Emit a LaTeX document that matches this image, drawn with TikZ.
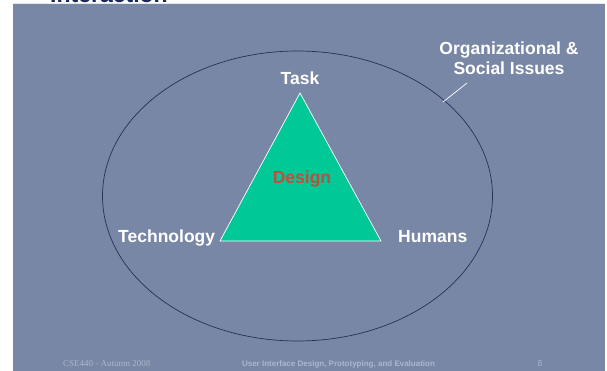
\documentclass[tikz,border=0pt]{standalone}
\usepackage{fontspec}
\setmainfont{Liberation Sans}
\newfontfamily\serifft{Liberation Serif}
\definecolor{slidebg}{RGB}{121,135,166}
\definecolor{ringline}{RGB}{38,48,88}
\definecolor{trifill}{RGB}{0,200,150}
\definecolor{designred}{RGB}{181,84,60}
\definecolor{footgray}{RGB}{172,182,204}
\definecolor{titlenavy}{RGB}{28,38,88}
\tikzset{
  lab/.style={text=white, font=\bfseries\fontsize{17.5}{20}\selectfont, inner sep=0pt},
  foot/.style={text=footgray, inner sep=0pt},
  leader/.style={draw=white, line width=0.7pt},
}
\begin{document}
\begin{tikzpicture}[x=1pt,y=-1pt]
\useasboundingbox (0,0) rectangle (607,371);
\fill[white] (0,0) rectangle (607,371);
% slide panel
\fill[slidebg] (13,3) rectangle (605,371);
\draw[white!80!slidebg, line width=0.6pt] (13,3.2) -- (605,3.2);
% bottom of the cut-off heading
\begin{scope}
  \clip (0,0) rectangle (607,2.6);
  \node[anchor=base west, inner sep=0pt, text=titlenavy,
        font=\bfseries\fontsize{23}{26}\selectfont] (heading) at (50,2.6) {Interaction};
\end{scope}
% context ring
\draw[ringline, line width=0.7pt] (297.5,196) ellipse [x radius=195, y radius=145];
% design triangle
\coordinate (apex) at (300,93);
\coordinate (lbase) at (220,241);
\coordinate (rbase) at (381,241);
\filldraw[fill=trifill, draw=white, line width=0.7pt] (apex) -- (rbase) -- (lbase) -- cycle;
\node[lab, text=designred, anchor=base] (design) at (302,184) {Design};
% corner labels
\node[lab, anchor=base] (task) at (300,85) {Task};
\node[lab, anchor=base west] (tech) at (118,243) {Technology};
\node[lab, anchor=base west] (humans) at (398,242) {Humans};
\node[lab, anchor=north, align=center] (org) at (509,41.5) {Organizational \&\\Social Issues};
% leader to the ring
\coordinate (leadtop) at (467,83);
\coordinate (leadend) at (443,102);
\draw[leader] (leadtop) -- (leadend);
% footer
\node[foot, anchor=base west, font=\serifft\fontsize{9}{10}\selectfont] (course) at (63,366) {CSE440 - Autumn 2008};
\node[foot, anchor=base, font=\bfseries\fontsize{8}{9}\selectfont] (subject) at (338.5,366) {User Interface Design, Prototyping, and Evaluation};
\node[foot, anchor=base, font=\fontsize{8.5}{9}\selectfont] (page) at (540,366) {8};
\end{tikzpicture}
\end{document}
